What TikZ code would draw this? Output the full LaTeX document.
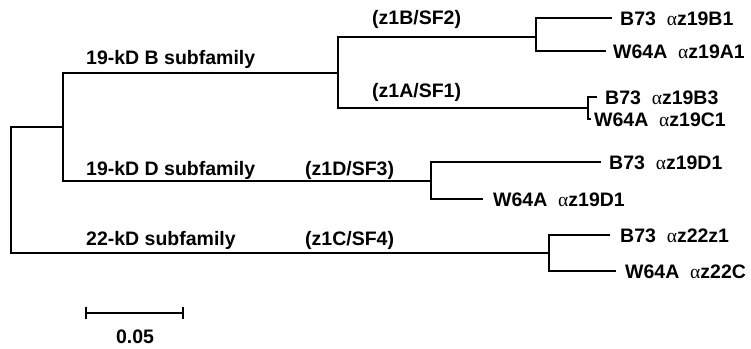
\documentclass[tikz,border=0pt]{standalone}
\usepackage{fontspec}
\setmainfont{Liberation Sans}
\newfontfamily\greekfont{Liberation Serif}
\newcommand{\alp}{{\greekfont\mdseries α}}
\begin{document}
\begin{tikzpicture}[x=1pt,y=-1pt,
  branch/.style={line width=1.2pt},
  lbl/.style={anchor=west,inner sep=0pt,font=\fontsize{19.5}{23}\selectfont\bfseries,text height=14pt,text depth=0pt},
  ctr/.style={lbl,anchor=center}]
\useasboundingbox (0,0) rectangle (751,348);
% internal nodes
\coordinate (r) at (11,190);
\coordinate (n1) at (63,127);
\coordinate (nB) at (338,73);
\coordinate (nB2) at (536,37);
\coordinate (nB1) at (588,108);
\coordinate (nD) at (431,181);
\coordinate (n22) at (549,253);
% leaf ends
\coordinate (eB1) at (612,18);
\coordinate (eA1) at (606,51);
\coordinate (eB3) at (597,97);
\coordinate (eC1) at (591,119);
\coordinate (eD1B) at (601,162);
\coordinate (eD1W) at (483,199);
\coordinate (ez1) at (610,235);
\coordinate (e22C) at (616,271);
% leaves
\node[lbl] (lB1) at (620,18) {B73\ \ \alp z19B1};
\node[lbl] (lA1) at (613,51) {W64A\ \ \alp z19A1};
\node[lbl] (lB3) at (605,97) {B73\ \ \alp z19B3};
\node[lbl] (lC1) at (594,119) {W64A\ \ \alp z19C1};
\node[lbl] (lD1B) at (609,162) {B73\ \ \alp z19D1};
\node[lbl] (lD1W) at (493,199) {W64A\ \ \alp z19D1};
\node[lbl] (lz1) at (620,235) {B73\ \ \alp z22z1};
\node[lbl] (l22C) at (625,271) {W64A\ \ \alp z22C};
% group labels
\node[lbl] (gB) at (86,57) {19-kD B subfamily};
\node[lbl] (gB2) at (372,17) {(z1B/SF2)};
\node[lbl] (gB1) at (372,90) {(z1A/SF1)};
\node[lbl] (gD) at (86,168) {19-kD D subfamily};
\node[lbl] (gD3) at (305,168) {(z1D/SF3)};
\node[lbl] (g22) at (86,238) {22-kD subfamily};
\node[lbl] (g22c) at (305,238) {(z1C/SF4)};
% tree
\draw[branch] (n1) -| (r) |- (n22);
\draw[branch] (nB) -| (n1) |- (nD);
\draw[branch] (nB2) -| (nB) |- (nB1);
\draw[branch] (eB1) -| (nB2) |- (eA1);
\draw[branch] (eB3) -| (nB1) |- (eC1);
\draw[branch] (eD1B) -| (nD) |- (eD1W);
\draw[branch] (ez1) -| (n22) |- (e22C);
% scale bar
\coordinate (s1) at (86,313);
\coordinate (s2) at (183,313);
\draw[branch] (s1) -- (s2);
\draw[branch] ([yshift=-6pt]s1) -- ([yshift=6pt]s1);
\draw[branch] ([yshift=-6pt]s2) -- ([yshift=6pt]s2);
\node[ctr] (sl) at (135,336) {0.05};
\end{tikzpicture}
\end{document}
